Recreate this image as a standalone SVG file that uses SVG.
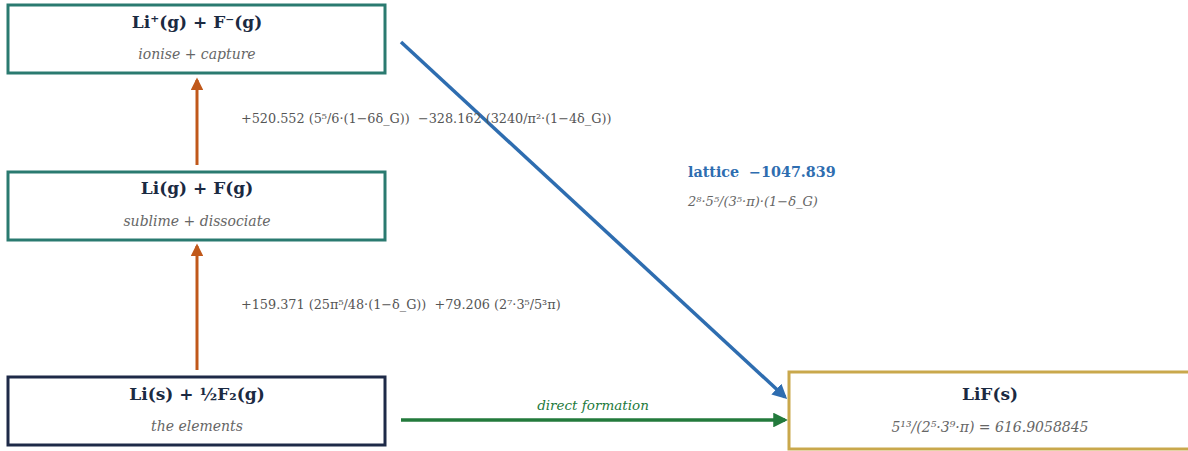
<svg xmlns="http://www.w3.org/2000/svg" width="1188" height="451" viewBox="0 0 1188 451">
<style>
.box{fill:#fff;stroke-width:3}
.title{font-family:"DejaVu Serif",serif;font-weight:bold;font-size:17px;fill:#1b2a42;text-anchor:middle}
.sub{font-family:"DejaVu Serif",serif;font-style:italic;font-size:14px;fill:#666;text-anchor:middle}
.lbl{font-family:"DejaVu Serif",serif;font-size:12.8px;fill:#555;white-space:pre}
.lat{font-family:"DejaVu Serif",serif;font-weight:bold;font-size:14.3px;fill:#2e6db0;white-space:pre}
.latf{font-family:"DejaVu Serif",serif;font-style:italic;font-size:13px;fill:#666}
.dir{font-family:"DejaVu Serif",serif;font-style:italic;font-size:13.5px;fill:#237a3c;text-anchor:middle}
</style>
<defs>
<marker id="ao" viewBox="0 0 10 10" refX="8" refY="5" markerWidth="4.2" markerHeight="4.2" orient="auto"><path d="M0,0 L10,5 L0,10 z" fill="#c0581a"/></marker>
<marker id="ab" viewBox="0 0 10 10" refX="8" refY="5" markerWidth="4.2" markerHeight="4.2" orient="auto"><path d="M0,0 L10,5 L0,10 z" fill="#2e6db0"/></marker>
<marker id="ag" viewBox="0 0 10 10" refX="8" refY="5" markerWidth="4.2" markerHeight="4.2" orient="auto"><path d="M0,0 L10,5 L0,10 z" fill="#237a3c"/></marker>
</defs>
<g id="connectors">
<line x1="197" y1="165" x2="197" y2="80" stroke="#c0581a" stroke-width="3" marker-end="url(#ao)"/>
<line x1="197" y1="370" x2="197" y2="246" stroke="#c0581a" stroke-width="3" marker-end="url(#ao)"/>
<line x1="401" y1="42" x2="785" y2="397" stroke="#2e6db0" stroke-width="3.5" marker-end="url(#ab)"/>
<line x1="401" y1="420" x2="785" y2="420" stroke="#237a3c" stroke-width="3.5" marker-end="url(#ag)"/>
<text class="lbl" x="241" y="123" xml:space="preserve">+520.552 (5⁵/6·(1−6δ_G))  −328.162 (3240/π²·(1−4δ_G))</text>
<text class="lbl" x="241" y="309" xml:space="preserve">+159.371 (25π⁵/48·(1−δ_G))  +79.206 (2⁷·3⁵/5³π)</text>
<text class="lat" x="688" y="177" xml:space="preserve">lattice  −1047.839</text>
<text class="latf" x="688" y="206">2⁸·5⁵/(3⁵·π)·(1−δ_G)</text>
<text class="dir" x="593" y="410">direct formation</text>
</g>
<g id="ions">
<rect class="box" x="8" y="5" width="377" height="68" stroke="#2a7a70"/>
<text class="title" x="197" y="28">Li⁺(g) + F⁻(g)</text>
<text class="sub" x="197" y="59">ionise + capture</text>
</g>
<g id="gas">
<rect class="box" x="8" y="172" width="377" height="68" stroke="#2a7a70"/>
<text class="title" x="197" y="194">Li(g) + F(g)</text>
<text class="sub" x="197" y="226">sublime + dissociate</text>
</g>
<g id="elements">
<rect class="box" x="8" y="377" width="377" height="68" stroke="#1e2a48"/>
<text class="title" x="197" y="400">Li(s) + ½F₂(g)</text>
<text class="sub" x="197" y="431">the elements</text>
</g>
<g id="lif">
<rect class="box" x="789" y="372" width="402" height="77" stroke="#c9a84c"/>
<text class="title" x="990" y="400">LiF(s)</text>
<text class="sub" x="990" y="432">5¹³/(2⁵·3⁹·π) = 616.9058845</text>
</g>
</svg>
